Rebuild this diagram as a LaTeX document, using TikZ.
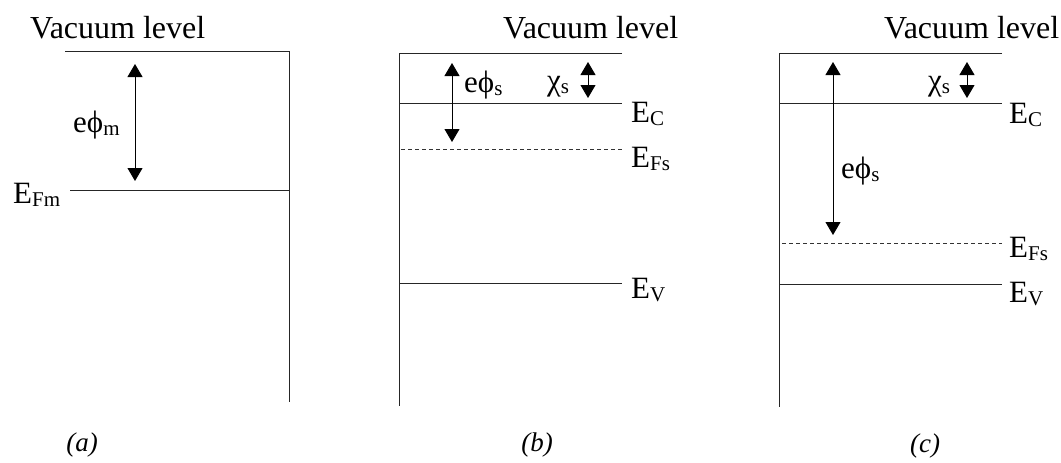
\documentclass[tikz,border=0pt]{standalone}
\usepackage{fontspec}
\setmainfont{Liberation Serif}
\usetikzlibrary{arrows.meta}
\tikzset{
  lvl/.style={line width=0.9pt, draw=black!85},
  dlvl/.style={line width=0.9pt, draw=black!80, dash pattern=on 4pt off 3pt},
  dbl/.style={line width=0.9pt, {Triangle[width=15pt,length=13pt]}-{Triangle[width=15pt,length=13pt]}},
  big/.style={font=\fontsize{31}{31}\selectfont, inner sep=0pt, anchor=base west},
  vac/.style={font=\fontsize{32}{32}\selectfont, inner sep=0pt, anchor=base west},
  capt/.style={font=\fontsize{27}{27}\selectfont\itshape, inner sep=0pt}
}
\newcommand{\sbx}[1]{\raisebox{-3pt}{\fontsize{21}{21}\selectfont #1}}
\begin{document}
\begin{tikzpicture}[x=1pt,y=-1pt]
\useasboundingbox (0,0) rectangle (1061,463);
% ---------- (a) ----------
\node[vac] (vaca) at (30,38) {Vacuum level};
\coordinate (a1) at (65,51);
\coordinate (a2) at (289,51);
\coordinate (a3) at (289,402);
\draw[lvl] (a1) -- (a2) -- (a3);
\coordinate (af1) at (70,190);
\coordinate (af2) at (289,190);
\draw[lvl] (af1) -- (af2);
\node[big] (efm) at (13,203) {E\sbx{Fm}};
\coordinate (aw1) at (135,64);
\coordinate (aw2) at (135,181);
\draw[dbl] (aw1) -- (aw2);
\node[big] (phim) at (73,132) {eϕ\sbx{m}};
% ---------- (b) ----------
\node[vac] (vacb) at (503,38) {Vacuum level};
\coordinate (b1) at (622,53);
\coordinate (b2) at (399,53);
\coordinate (b3) at (399,406);
\draw[lvl] (b1) -- (b2) -- (b3);
\coordinate (bc1) at (399,103);
\coordinate (bc2) at (622,103);
\draw[lvl] (bc1) -- (bc2);
\coordinate (bf1) at (401,149);
\coordinate (bf2) at (622,149);
\draw[dlvl] (bf1) -- (bf2);
\coordinate (bv1) at (399,283);
\coordinate (bv2) at (622,283);
\draw[lvl] (bv1) -- (bv2);
\node[big] (ecb) at (631,122) {E\sbx{C}};
\node[big] (efb) at (631,167) {E\sbx{Fs}};
\node[big] (evb) at (631,298) {E\sbx{V}};
\coordinate (bw1) at (452,63);
\coordinate (bw2) at (452,142);
\draw[dbl] (bw1) -- (bw2);
\node[big] (phib) at (464,92) {eϕ\sbx{s}};
\coordinate (bx1) at (588,62);
\coordinate (bx2) at (588,98);
\draw[dbl] (bx1) -- (bx2);
\node[big] (chib) at (547,90) {χ\sbx{s}};
% ---------- (c) ----------
\node[vac] (vacc) at (884,38) {Vacuum level};
\coordinate (c1) at (1002,53);
\coordinate (c2) at (779,53);
\coordinate (c3) at (779,407);
\draw[lvl] (c1) -- (c2) -- (c3);
\coordinate (cc1) at (779,103);
\coordinate (cc2) at (1002,103);
\draw[lvl] (cc1) -- (cc2);
\coordinate (cf1) at (782,243);
\coordinate (cf2) at (1002,243);
\draw[dlvl] (cf1) -- (cf2);
\coordinate (cv1) at (779,284);
\coordinate (cv2) at (1002,284);
\draw[lvl] (cv1) -- (cv2);
\node[big] (ecc) at (1009,123) {E\sbx{C}};
\node[big] (efc) at (1009,257) {E\sbx{Fs}};
\node[big] (evc) at (1009,302) {E\sbx{V}};
\coordinate (cw1) at (833,62);
\coordinate (cw2) at (833,235);
\draw[dbl] (cw1) -- (cw2);
\node[big] (phic) at (841,178) {eϕ\sbx{s}};
\coordinate (cx1) at (967,62);
\coordinate (cx2) at (967,98);
\draw[dbl] (cx1) -- (cx2);
\node[big] (chic) at (928,90) {χ\sbx{s}};
% ---------- captions ----------
\node[capt] (capa) at (82,445) {(a)};
\node[capt] (capb) at (537,445) {(b)};
\node[capt] (capc) at (925,446) {(c)};
\end{tikzpicture}
\end{document}
